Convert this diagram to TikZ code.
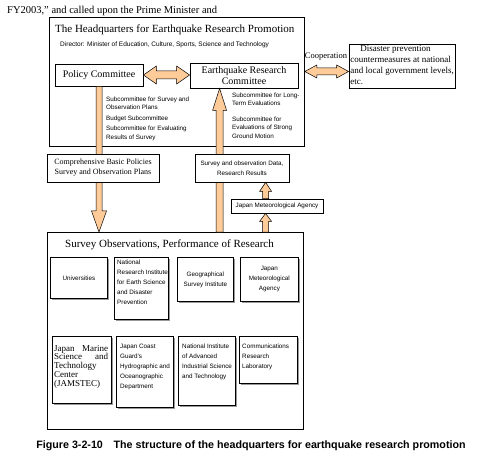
\documentclass[tikz,border=0pt]{standalone}
\usepackage{fontspec}
\setmainfont{Liberation Serif}
\setsansfont{Liberation Sans}
\usetikzlibrary{calc,shadows}
\definecolor{peach}{RGB}{255,204,153}
\tikzset{
 box/.style={draw=black, line width=0.8pt, fill=white, inner sep=0pt},
 rbox/.style={box, anchor=north west, drop shadow={shadow xshift=1.3pt, shadow yshift=-1.3pt, opacity=1, fill=black!40}},
 blk/.style={fill=peach, draw=black, line width=0.5pt},
 sm/.style={font=\sffamily\fontsize{6.3}{8.5}\selectfont, inner sep=0pt, align=left},
 smr/.style={font=\sffamily\fontsize{6.3}{10}\selectfont, inner sep=0pt},
}
\newcommand\myvdown[5]{\draw[blk] ($(#1)+(-#3,0)$) -- ($(#2)+(-#3,-#5)$) -- ($(#2)+(-#4,-#5)$) -- (#2) -- ($(#2)+(#4,-#5)$) -- ($(#2)+(#3,-#5)$) -- ($(#1)+(#3,0)$) -- cycle;}
\newcommand\myvup[5]{\draw[blk] ($(#1)+(-#3,0)$) -- ($(#2)+(-#3,#5)$) -- ($(#2)+(-#4,#5)$) -- (#2) -- ($(#2)+(#4,#5)$) -- ($(#2)+(#3,#5)$) -- ($(#1)+(#3,0)$) -- cycle;}
\newcommand\myhdouble[5]{\draw[blk] (#1) -- ($(#1)+(#5,-#4)$) -- ($(#1)+(#5,-#3)$) -- ($(#2)+(-#5,-#3)$) -- ($(#2)+(-#5,-#4)$) -- (#2) -- ($(#2)+(-#5,#4)$) -- ($(#2)+(-#5,#3)$) -- ($(#1)+(#5,#3)$) -- ($(#1)+(#5,#4)$) -- cycle;}
\begin{document}
\begin{tikzpicture}[x=1pt,y=-1pt]
\useasboundingbox[fill=white] (0,0) rectangle (485,468);
\node[anchor=west, inner sep=0pt, font=\fontsize{10.5}{12}\selectfont] (fy) at (7,11) {FY2003,” and called upon the Prime Minister and};

% Headquarters
\node[box, anchor=north west, minimum width=255pt, minimum height=129pt] (hq) at (49,17) {};
\node[anchor=west, inner sep=0pt, font=\fontsize{11}{13}\selectfont] (hqt) at (55,30) {The Headquarters for Earthquake Research Promotion};
\node[anchor=west, inner sep=0pt, font=\sffamily\fontsize{6.5}{8}\selectfont] (dir) at (60,45) {Director: Minister of Education, Culture, Sports, Science and Technology};

% Survey observations
\node[box, anchor=north west, minimum width=256pt, minimum height=197pt] (sv) at (47,232) {};
\node[anchor=west, inner sep=0pt, font=\fontsize{11}{13}\selectfont] (svt) at (65,245) {Survey Observations, Performance of Research};

% committees
\node[box, minimum width=88pt, minimum height=22pt, font=\fontsize{10}{12}\selectfont] (pol) at (99,75) {Policy Committee};
\node[box, minimum width=108pt, minimum height=25pt, align=center, font=\fontsize{10}{11.7}\selectfont] (erc) at (244,75.5) {Earthquake Research\\Committee};

% big arrows
\coordinate (a1e) at (pol.south |- sv.north);
\myvdown{pol.south}{a1e}{3}{7.5}{21}
\coordinate (a2e) at ($(erc.south west)+(30,0)$);
\coordinate (a2s) at (a2e |- sv.north);
\myvup{a2s}{a2e}{3.5}{7}{22}
\coordinate (b2) at (pol.east -| erc.west);
\myhdouble{pol.east}{b2}{4}{9}{13}

% disaster box and cooperation
\node[box, minimum width=106pt, minimum height=44pt] (dis) at (402,66) {};
\node[anchor=north west, inner sep=0pt, align=left, font=\fontsize{9}{11}\selectfont] (dist) at ($(dis.north west)+(1.5,2)$) {\hspace*{10pt}Disaster prevention\\countermeasures at national\\and local government levels,\\etc.};
\coordinate (c2) at ($(dis.west)+(0,5.5)$);
\coordinate (c1) at (hq.east |- c2);
\myhdouble{c1}{c2}{3.5}{6.5}{12}
\node[font=\fontsize{8.5}{10}\selectfont, inner sep=0pt] (coop) at (326,57) {Cooperation};

% subcommittees
\node[sm, anchor=north west] (pst) at (106,96.5) {Subcommittee for Survey and\\Observation Plans\\[2pt]Budget Subcommittee\\[2pt]Subcommittee for Evaluating\\Results of Survey};
\node[sm, anchor=north west] (est) at (232,92.5) {Subcommittee for Long-\\Term Evaluations\\[7pt]Subcommittee for\\Evaluations of Strong\\Ground Motion};

% middle boxes
\node[box, minimum width=112pt, minimum height=28pt, align=center, font=\fontsize{8}{10}\selectfont] (comp) at (103,168) {Comprehensive Basic Policies\\Survey and Observation Plans};
\node[box, minimum width=94pt, minimum height=28pt, align=center, font=\sffamily\fontsize{6.3}{10}\selectfont] (data) at (242,168) {Survey and observation Data,\\Research Results};
\node[box, minimum width=92pt, minimum height=14pt, font=\sffamily\fontsize{6.3}{8}\selectfont] (jmab) at (277,206) {Japan Meteorological Agency};
\coordinate (s1s) at ($(jmab.north west)+(35,0)$);
\coordinate (s1e) at (s1s |- data.south);
\myvup{s1s}{s1e}{3}{6}{9}
\coordinate (s2e) at ($(jmab.south west)+(35,0)$);
\coordinate (s2s) at (s2e |- sv.north);
\myvup{s2s}{s2e}{3}{6}{8}

% row 1
\node[rbox, minimum width=57pt, minimum height=41pt] (uni) at (50,257) {};
\node[smr] (unit) at (uni.center) {Universities};
\node[rbox, minimum width=54pt, minimum height=62pt] (nied) at (114,257) {};
\node[smr, align=left, anchor=north west] (niedt) at ($(nied.north west)+(3,2.5)$) {National\\Research Institute\\for Earth Science\\and Disaster\\Prevention};
\node[rbox, minimum width=56pt, minimum height=44pt] (gsi) at (177,257) {};
\node[smr, align=center] (gsit) at (gsi.center) {Geographical\\Survey Institute};
\node[rbox, minimum width=58pt, minimum height=44pt] (jma) at (240,257) {};
\node[smr, align=center] (jmat) at (jma.center) {Japan\\Meteorological\\Agency};

% row 2
\node[rbox, minimum width=59pt, minimum height=67pt] (jam) at (52,336) {};
\node[anchor=north west, inner sep=0pt, align=left, font=\fontsize{9}{8.8}\selectfont] (jamt) at ($(jam.north west)+(2,9)$) {\makebox[54pt][s]{Japan Marine}\\\makebox[54pt][s]{Science and}\\Technology\\Center\\(JAMSTEC)};
\node[rbox, minimum width=57pt, minimum height=71pt] (jcg) at (116,336) {};
\node[smr, align=left, anchor=north west] (jcgt) at ($(jcg.north west)+(4,7.5)$) {Japan Coast\\Guard's\\Hydrographic and\\Oceanographic\\Department};
\node[rbox, minimum width=57pt, minimum height=69pt] (aist) at (178,336) {};
\node[smr, align=left, anchor=north west] (aistt) at ($(aist.north west)+(4,7.5)$) {National Institute\\of Advanced\\Industrial Science\\and Technology};
\node[rbox, minimum width=58pt, minimum height=47pt] (crl) at (239,336) {};
\node[smr, align=left, anchor=north west] (crlt) at ($(crl.north west)+(3,7.5)$) {Communications\\Research\\Laboratory};

% caption
\node[font=\sffamily\bfseries\fontsize{10.7}{12}\selectfont, inner sep=0pt] (cap) at (251,446) {Figure 3-2-10\hspace{1em}The structure of the headquarters for earthquake research promotion};
\end{tikzpicture}
\end{document}
